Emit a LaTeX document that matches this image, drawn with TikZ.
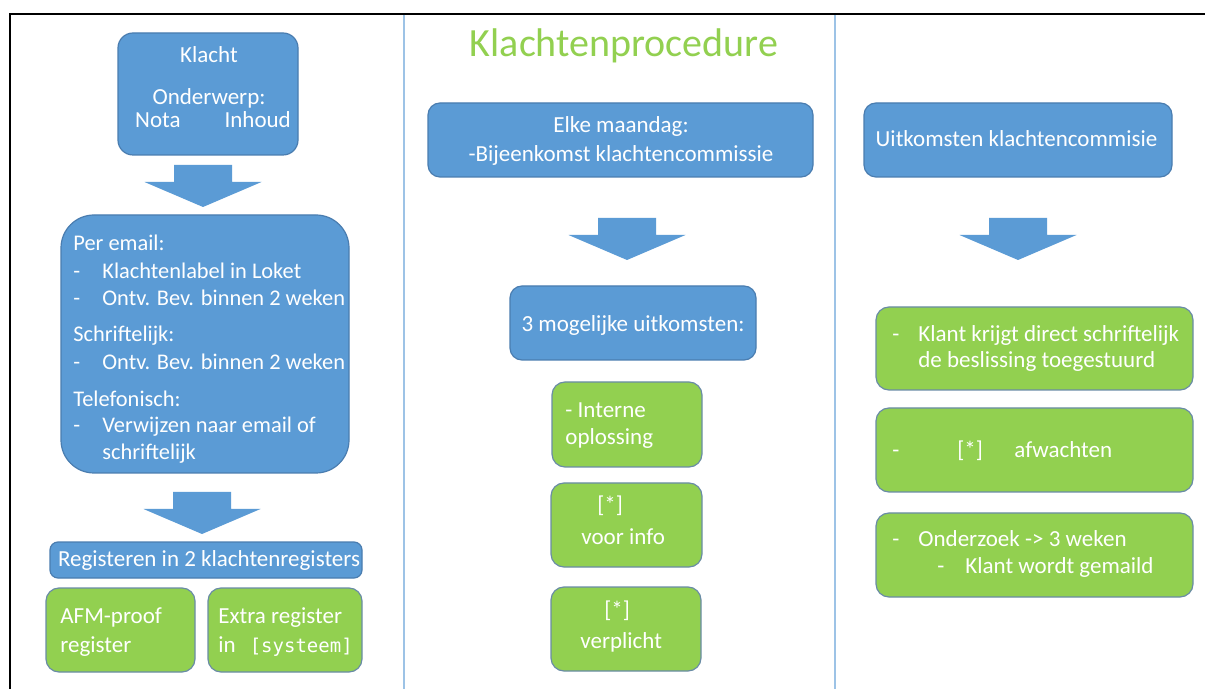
\documentclass[tikz,border=0pt]{standalone}
\usepackage{fontspec}
\setmainfont{Carlito}
\newfontfamily\monofont{DejaVu Sans Mono}

\definecolor{boxblue}{HTML}{5B9BD5}
\definecolor{blueline}{HTML}{4A7DB0}
\definecolor{boxgreen}{HTML}{92D050}
\definecolor{greenline}{HTML}{6A8CA6}
\definecolor{sepblue}{HTML}{9DC3E6}

\newcommand{\itemdash}[1]{\makebox[#1][l]{-}}

\tikzset{
  bluebox/.style={draw=blueline, fill=boxblue, line width=0.6pt, rounded corners=6pt, inner sep=0pt},
  greenbox/.style={draw=greenline, fill=boxgreen, line width=0.6pt, rounded corners=6.5pt, inner sep=0pt},
  boxtext/.style={text=white, inner sep=0pt, align=left, font=\fontsize{11.5}{13.5}\selectfont},
  downarrow/.pic={
    \fill[boxblue] (-29,0) -- (29,0) -- (29,17) -- (58.5,17) -- (0,42) -- (-58.5,17) -- (-29,17) -- cycle;
  }
}

\begin{document}
\begin{tikzpicture}[x=0.5pt, y=-0.5pt]
  \useasboundingbox[fill=white] (0,0) rectangle (1205,689);
  \draw[line width=1pt] (1205,14) -- (10,14) -- (10,689);
  \draw[sepblue, line width=1pt] (404,15) -- (404,689);
  \draw[sepblue, line width=1pt] (835,15) -- (835,689);

  % left column (text nodes sit on the baseline of their last line)
  \node[bluebox, minimum width=90pt, minimum height=61pt, rounded corners=7.5pt] (klacht) at (208,94) {};
  \node[boxtext, align=center, anchor=base] (klacht-t) at (209,128)
    {Klacht\\[7.5pt]Onderwerp:\\[-2pt]\hspace*{4pt}Nota\hspace{22pt}Inhoud};
  \pic (pijl1) at (203,165) {downarrow};
  \node[bluebox, minimum width=144pt, minimum height=129pt, rounded corners=16.5pt] (email) at (205,344) {};
  \node[boxtext, anchor=base west, font=\fontsize{11.2}{13.5}\selectfont] (email-t) at (73,460)
    {Per email:\\
     \itemdash{14.5pt}Klachtenlabel in Loket\\
     \itemdash{14.5pt}Ontv. Bev. binnen 2 weken\\[5pt]
     Schriftelijk:\\
     \itemdash{14.5pt}Ontv. Bev. binnen 2 weken\\[5pt]
     Telefonisch:\\
     \itemdash{14.5pt}Verwijzen naar email of\\
     \hspace*{14.5pt}schriftelijk};
  \pic (pijl2) at (202,492) {downarrow};
  \node[bluebox, minimum width=156pt, minimum height=18pt, rounded corners=4pt] (regist) at (206,560) {};
  \node[boxtext, anchor=base] (regist-t) at (209,567) {Registeren in 2 klachtenregisters};
  \node[greenbox, minimum width=74.5pt, minimum height=42pt] (afm) at (120.5,630) {};
  \node[boxtext, anchor=base west] (afm-t) at (60,652) {AFM-proof\\[1pt]register};
  \node[greenbox, minimum width=77pt, minimum height=42pt] (extra) at (285,630) {};
  \node[boxtext, anchor=base west] (extra-t) at (218,652)
    {Extra register\\[1pt]in\hspace{7pt}{\monofont\fontsize{9.5}{13.5}\selectfont[systeem]}};

  % middle column
  \node[font=\fontsize{20}{24}\selectfont, text=boxgreen, inner sep=0pt, anchor=base] (titel) at (624,57) {Klachtenprocedure};
  \node[bluebox, minimum width=192.5pt, minimum height=37pt] (maandag) at (620.5,140) {};
  \node[boxtext, align=center, anchor=base] (maandag-t) at (621,162)
    {Elke maandag:\\[1pt]-Bijeenkomst klachtencommissie};
  \pic (pijl3) at (627,218) {downarrow};
  \node[bluebox, minimum width=123pt, minimum height=37pt] (uitkomsten) at (633,323) {};
  \node[boxtext, anchor=base] (uitkomsten-t) at (633,332) {3 mogelijke uitkomsten:};
  \node[greenbox, minimum width=75pt, minimum height=42.5pt] (intern) at (627,424.5) {};
  \node[boxtext, anchor=base west] (intern-t) at (565,445) {- Interne\\oplossing};
  \node[greenbox, minimum width=75.5pt, minimum height=42pt] (info) at (626.5,525) {};
  \node[boxtext, anchor=base west] (info-t) at (581,545) {\hspace*{8pt}[*]\\[3pt]voor info};
  \node[greenbox, minimum width=75pt, minimum height=42pt] (verplicht) at (626,629) {};
  \node[boxtext, anchor=base west] (verplicht-t) at (580,648) {\hspace*{12pt}[*]\\[2pt]verplicht};

  % right column
  \node[bluebox, minimum width=154pt, minimum height=37pt] (commissie) at (1018,140) {};
  \node[boxtext, anchor=base] (commissie-t) at (1016.5,147) {Uitkomsten klachtencommisie};
  \pic (pijl4) at (1018,218) {downarrow};
  \node[greenbox, minimum width=158.5pt, minimum height=41.5pt] (direct) at (1034.5,348.5) {};
  \node[boxtext, anchor=base west] (direct-t) at (892,368)
    {\itemdash{13pt}Klant krijgt direct schriftelijk\\[-0.5pt]\hspace*{13pt}de beslissing toegestuurd};
  \node[greenbox, minimum width=158.5pt, minimum height=42pt] (wachten) at (1034.5,450) {};
  \node[boxtext, anchor=base west] (wachten-t) at (892,458)
    {\itemdash{32.5pt}\makebox[28.5pt][l]{[*]}afwachten};
  \node[greenbox, minimum width=158.5pt, minimum height=42pt] (onderzoek) at (1034.5,555) {};
  \node[boxtext, anchor=base west] (onderzoek-t) at (892,574)
    {\itemdash{13pt}Onderzoek -> 3 weken\\\hspace*{22.5pt}\itemdash{14pt}Klant wordt gemaild};
\end{tikzpicture}
\end{document}
